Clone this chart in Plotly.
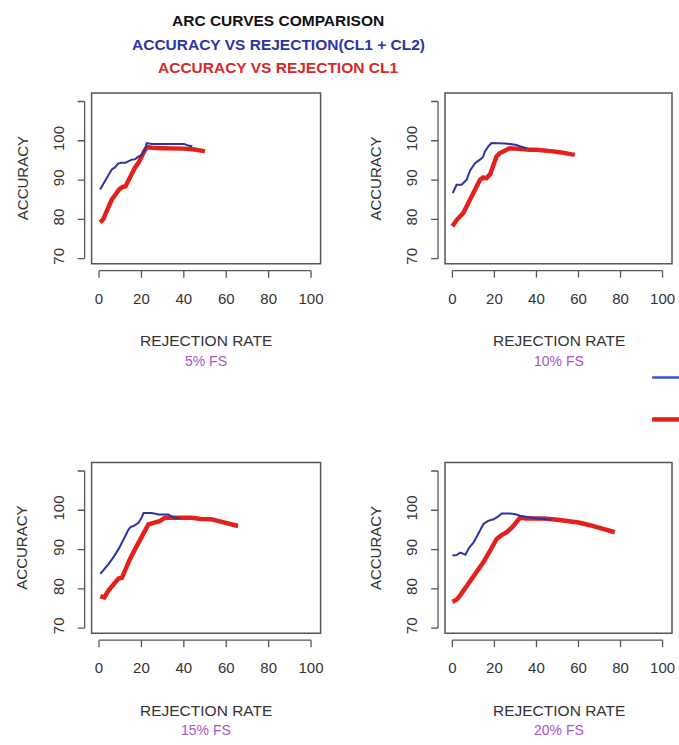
import plotly.graph_objects as go

# ---------------- data ----------------
panel_labels = ["5% FS", "10% FS", "15% FS", "20% FS"]
x_ticks = [0, 20, 40, 60, 80, 100]
y_tick_labels = [70, 80, 90, 100]
y_tick_marks = [70, 80, 90, 100, 110]

# Accuracy vs rejection (CL1 + CL2) -- blue
p1_both_x = [0.5, 1.5, 3, 4.5, 6, 7.5, 9, 10.5, 12.5, 14, 15.5, 17, 18.6, 20, 21.5, 22.5, 25, 28, 32, 36, 40, 42, 44]
p1_both_y = [87.6, 88.5, 90.1, 91.5, 92.7, 93.2, 94.2, 94.4, 94.4, 94.8, 95.2, 95.3, 96, 96.2, 97.5, 99.4, 99.2, 99.2, 99.2, 99.2, 99.2, 98.8, 98.6]
p2_both_x = [0.2, 2, 4.4, 6.8, 8.5, 10.8, 13.1, 14.5, 15.5, 17, 18.6, 20, 22.6, 25, 27.3, 30, 32.1, 35.2]
p2_both_y = [86.7, 88.8, 88.8, 90.1, 92.5, 94.3, 95.2, 95.8, 97.3, 98.5, 99.4, 99.4, 99.4, 99.3, 99.2, 99.0, 98.6, 98.1]
p3_both_x = [0.6, 2.5, 4.5, 7, 9.2, 11.5, 13.9, 15, 16.3, 18.6, 20, 21, 23, 24.9, 28, 30, 32.7, 34, 35.8, 38]
p3_both_y = [83.8, 85, 86.3, 88.2, 90.1, 92.5, 95.1, 95.8, 96, 96.8, 98, 99.3, 99.3, 99.3, 98.9, 98.9, 98.9, 98.5, 98.1, 98.0]
p4_both_x = [0, 2, 3.8, 5, 6.2, 8, 10.1, 12.5, 14.8, 17, 19.6, 21.5, 23.5, 27.5, 30, 32.2, 36, 40.1, 44.8, 47]
p4_both_y = [88.5, 88.6, 89.2, 89, 88.7, 90.5, 91.8, 94.2, 96.5, 97.3, 97.7, 98.3, 99.2, 99.2, 99.0, 98.6, 98.2, 97.9, 97.7, 97.6]

# Accuracy vs rejection CL1 -- red
p1_cl1_x = [0.5, 2, 4, 6, 8, 9.5, 11, 12.5, 14, 15.5, 17, 18.6, 20, 21.7, 23, 25, 30, 35, 40, 45, 48, 50]
p1_cl1_y = [79.2, 80, 82.5, 85, 86.5, 87.6, 88.2, 88.4, 90, 91.8, 93.2, 94.4, 96, 97.7, 98.4, 98.2, 98.1, 98.1, 98, 97.8, 97.6, 97.3]
p2_cl1_x = [0, 2, 5.2, 7.5, 9.9, 11.5, 13.1, 14.5, 16.3, 18, 19.4, 21, 22.5, 24.2, 27.3, 30, 33, 36.8, 40, 44, 47.9, 51, 54.2, 56, 58.2]
p2_cl1_y = [78.2, 79.8, 81.6, 84, 86.7, 88.5, 90, 90.6, 90.5, 91.5, 93.5, 96, 96.8, 97.3, 98.1, 98.0, 97.8, 97.7, 97.7, 97.6, 97.3, 97.1, 96.9, 96.8, 96.4]
p3_cl1_x = [0.6, 2.5, 4.5, 6.5, 9.2, 10.8, 12.4, 14.5, 17, 20, 23.3, 24.5, 26.4, 28.5, 31.1, 35, 40, 43.7, 48, 53, 56, 59.3, 62, 65.6]
p3_cl1_y = [78.1, 77.8, 79.6, 81, 82.6, 82.8, 85.1, 87.5, 90.1, 93.2, 96.4, 96.6, 96.8, 97.2, 98.1, 98.1, 98.1, 98.1, 97.8, 97.7, 97.3, 96.8, 96.6, 96]
p4_cl1_x = [0, 2, 3.8, 6, 8.5, 11.5, 14.8, 18, 21.1, 23.5, 25.9, 28.5, 32.2, 35, 40, 43.5, 50, 55.9, 60, 65.4, 70, 74, 77.3]
p4_cl1_y = [76.7, 77.2, 78.4, 80, 81.8, 84.2, 86.8, 89.8, 92.7, 93.7, 94.4, 95.7, 98.1, 97.9, 97.9, 97.9, 97.6, 97.3, 96.9, 96.2, 95.6, 94.9, 94.4]

both_series = [(p1_both_x, p1_both_y), (p2_both_x, p2_both_y), (p3_both_x, p3_both_y), (p4_both_x, p4_both_y)]
cl1_series = [(p1_cl1_x, p1_cl1_y), (p2_cl1_x, p2_cl1_y), (p3_cl1_x, p3_cl1_y), (p4_cl1_x, p4_cl1_y)]

# ---------------- style / layout ----------------
W, H = 679, 745
BLUE = "#2b35a6"
RED = "#e3201b"
PURPLE = "#a855c8"
GRAY = "#555555"
TXT = "#333333"
FONT = "Liberation Sans, Arial, sans-serif"

X_RANGE = [-3.5, 104.5]
Y_RANGE = [68.7, 112.2]

# panel boxes in pixels: (left, right, top, bottom)
boxes = [(92, 322, 93, 264), (447, 675, 93, 264), (92, 322, 463, 634), (447, 675, 463, 634)]


def fx(px):
    return px / W


def fy(py):
    return 1 - py / H


fig = go.Figure()
layout = dict(
    width=W, height=H,
    margin=dict(l=0, r=0, t=0, b=0),
    paper_bgcolor="white", plot_bgcolor="white",
    showlegend=False,
    font=dict(family=FONT, color=TXT, size=15),
)
shapes = []
annotations = []

for i, (l, r, t, b) in enumerate(boxes):
    n = "" if i == 0 else str(i + 1)
    xa, ya = "x" + n, "y" + n
    bx, by = both_series[i]
    cx, cy = cl1_series[i]
    fig.add_trace(go.Scatter(x=cx, y=cy, mode="lines", xaxis=xa, yaxis=ya,
                             line=dict(color=RED, width=4.5), name="ACCURACY VS REJECTION CL1"))
    fig.add_trace(go.Scatter(x=bx, y=by, mode="lines", xaxis=xa, yaxis=ya,
                             line=dict(color=BLUE, width=2), name="ACCURACY VS REJECTION(CL1 + CL2)"))

    layout["xaxis" + n] = dict(domain=[fx(l), fx(r)], range=X_RANGE, anchor=ya,
                               showgrid=False, zeroline=False, showline=False,
                               tickvals=x_ticks, ticks="", ticklabelstandoff=24,
                               tickfont=dict(size=15, color=TXT, family=FONT))
    layout["yaxis" + n] = dict(domain=[fy(b), fy(t)], range=Y_RANGE, anchor=xa,
                               showgrid=False, zeroline=False, showline=False,
                               tickvals=y_tick_labels, ticks="outside", ticklen=21,
                               tickcolor="rgba(0,0,0,0)", tickangle=-90,
                               tickfont=dict(size=15, color=TXT, family=FONT))
    # box
    shapes.append(dict(type="rect", xref="paper", yref="paper",
                       x0=fx(l), x1=fx(r), y0=fy(b), y1=fy(t),
                       line=dict(color=GRAY, width=1.5)))
    # x axis line (offset below box) and tick marks
    shapes.append(dict(type="line", xref=xa, yref="paper",
                       x0=x_ticks[0], x1=x_ticks[-1], y0=fy(b + 7), y1=fy(b + 7),
                       line=dict(color=GRAY, width=1.3)))
    for tv in x_ticks:
        shapes.append(dict(type="line", xref=xa, yref="paper",
                           x0=tv, x1=tv, y0=fy(b + 7), y1=fy(b + 14),
                           line=dict(color=GRAY, width=1.3)))
    # y axis line (offset left of box) and tick marks
    shapes.append(dict(type="line", xref="paper", yref=ya,
                       x0=fx(l - 7), x1=fx(l - 7), y0=y_tick_marks[0], y1=y_tick_marks[-1],
                       line=dict(color=GRAY, width=1.3)))
    for tv in y_tick_marks:
        shapes.append(dict(type="line", xref="paper", yref=ya,
                           x0=fx(l - 7), x1=fx(l - 14), y0=tv, y1=tv,
                           line=dict(color=GRAY, width=1.3)))
    # axis titles
    cxp = (l + r) / 2
    annotations.append(dict(text="REJECTION RATE", xref="paper", yref="paper",
                            x=fx(cxp), y=fy(b + 77), showarrow=False,
                            xanchor="center", yanchor="middle",
                            font=dict(size=15.5, color=TXT, family=FONT)))
    annotations.append(dict(text=panel_labels[i], xref="paper", yref="paper",
                            x=fx(cxp), y=fy(b + 97), showarrow=False,
                            xanchor="center", yanchor="middle",
                            font=dict(size=14, color=PURPLE, family=FONT)))
    annotations.append(dict(text="ACCURACY", xref="paper", yref="paper",
                            x=fx(l - 70), y=fy((t + b) / 2), showarrow=False, textangle=-90,
                            xanchor="center", yanchor="middle",
                            font=dict(size=15, color=TXT, family=FONT)))

# titles
annotations.append(dict(text="<b>ARC CURVES COMPARISON</b>", xref="paper", yref="paper",
                        x=fx(279), y=fy(21), showarrow=False, xanchor="center", yanchor="middle",
                        font=dict(size=15.5, color="#111111", family=FONT)))
annotations.append(dict(text="<b>ACCURACY VS REJECTION(CL1 + CL2)</b>", xref="paper", yref="paper",
                        x=fx(280), y=fy(45), showarrow=False, xanchor="center", yanchor="middle",
                        font=dict(size=15.5, color=BLUE, family=FONT)))
annotations.append(dict(text="<b>ACCURACY VS REJECTION CL1</b>", xref="paper", yref="paper",
                        x=fx(279), y=fy(68), showarrow=False, xanchor="center", yanchor="middle",
                        font=dict(size=15.5, color="#d42a2a", family=FONT)))

# legend keys (cropped at the right edge)
shapes.append(dict(type="line", xref="paper", yref="paper",
                   x0=fx(655), x1=fx(685), y0=fy(378), y1=fy(378),
                   line=dict(color="#3a55cc", width=2.5)))
shapes.append(dict(type="line", xref="paper", yref="paper",
                   x0=fx(655), x1=fx(685), y0=fy(420), y1=fy(420),
                   line=dict(color=RED, width=4.5)))

layout["shapes"] = shapes
layout["annotations"] = annotations
fig.update_layout(**layout)
fig.write_html("out.html", config={"displayModeBar": False},
               post_script="document.body.style.margin='0';document.body.style.overflow='hidden';")
